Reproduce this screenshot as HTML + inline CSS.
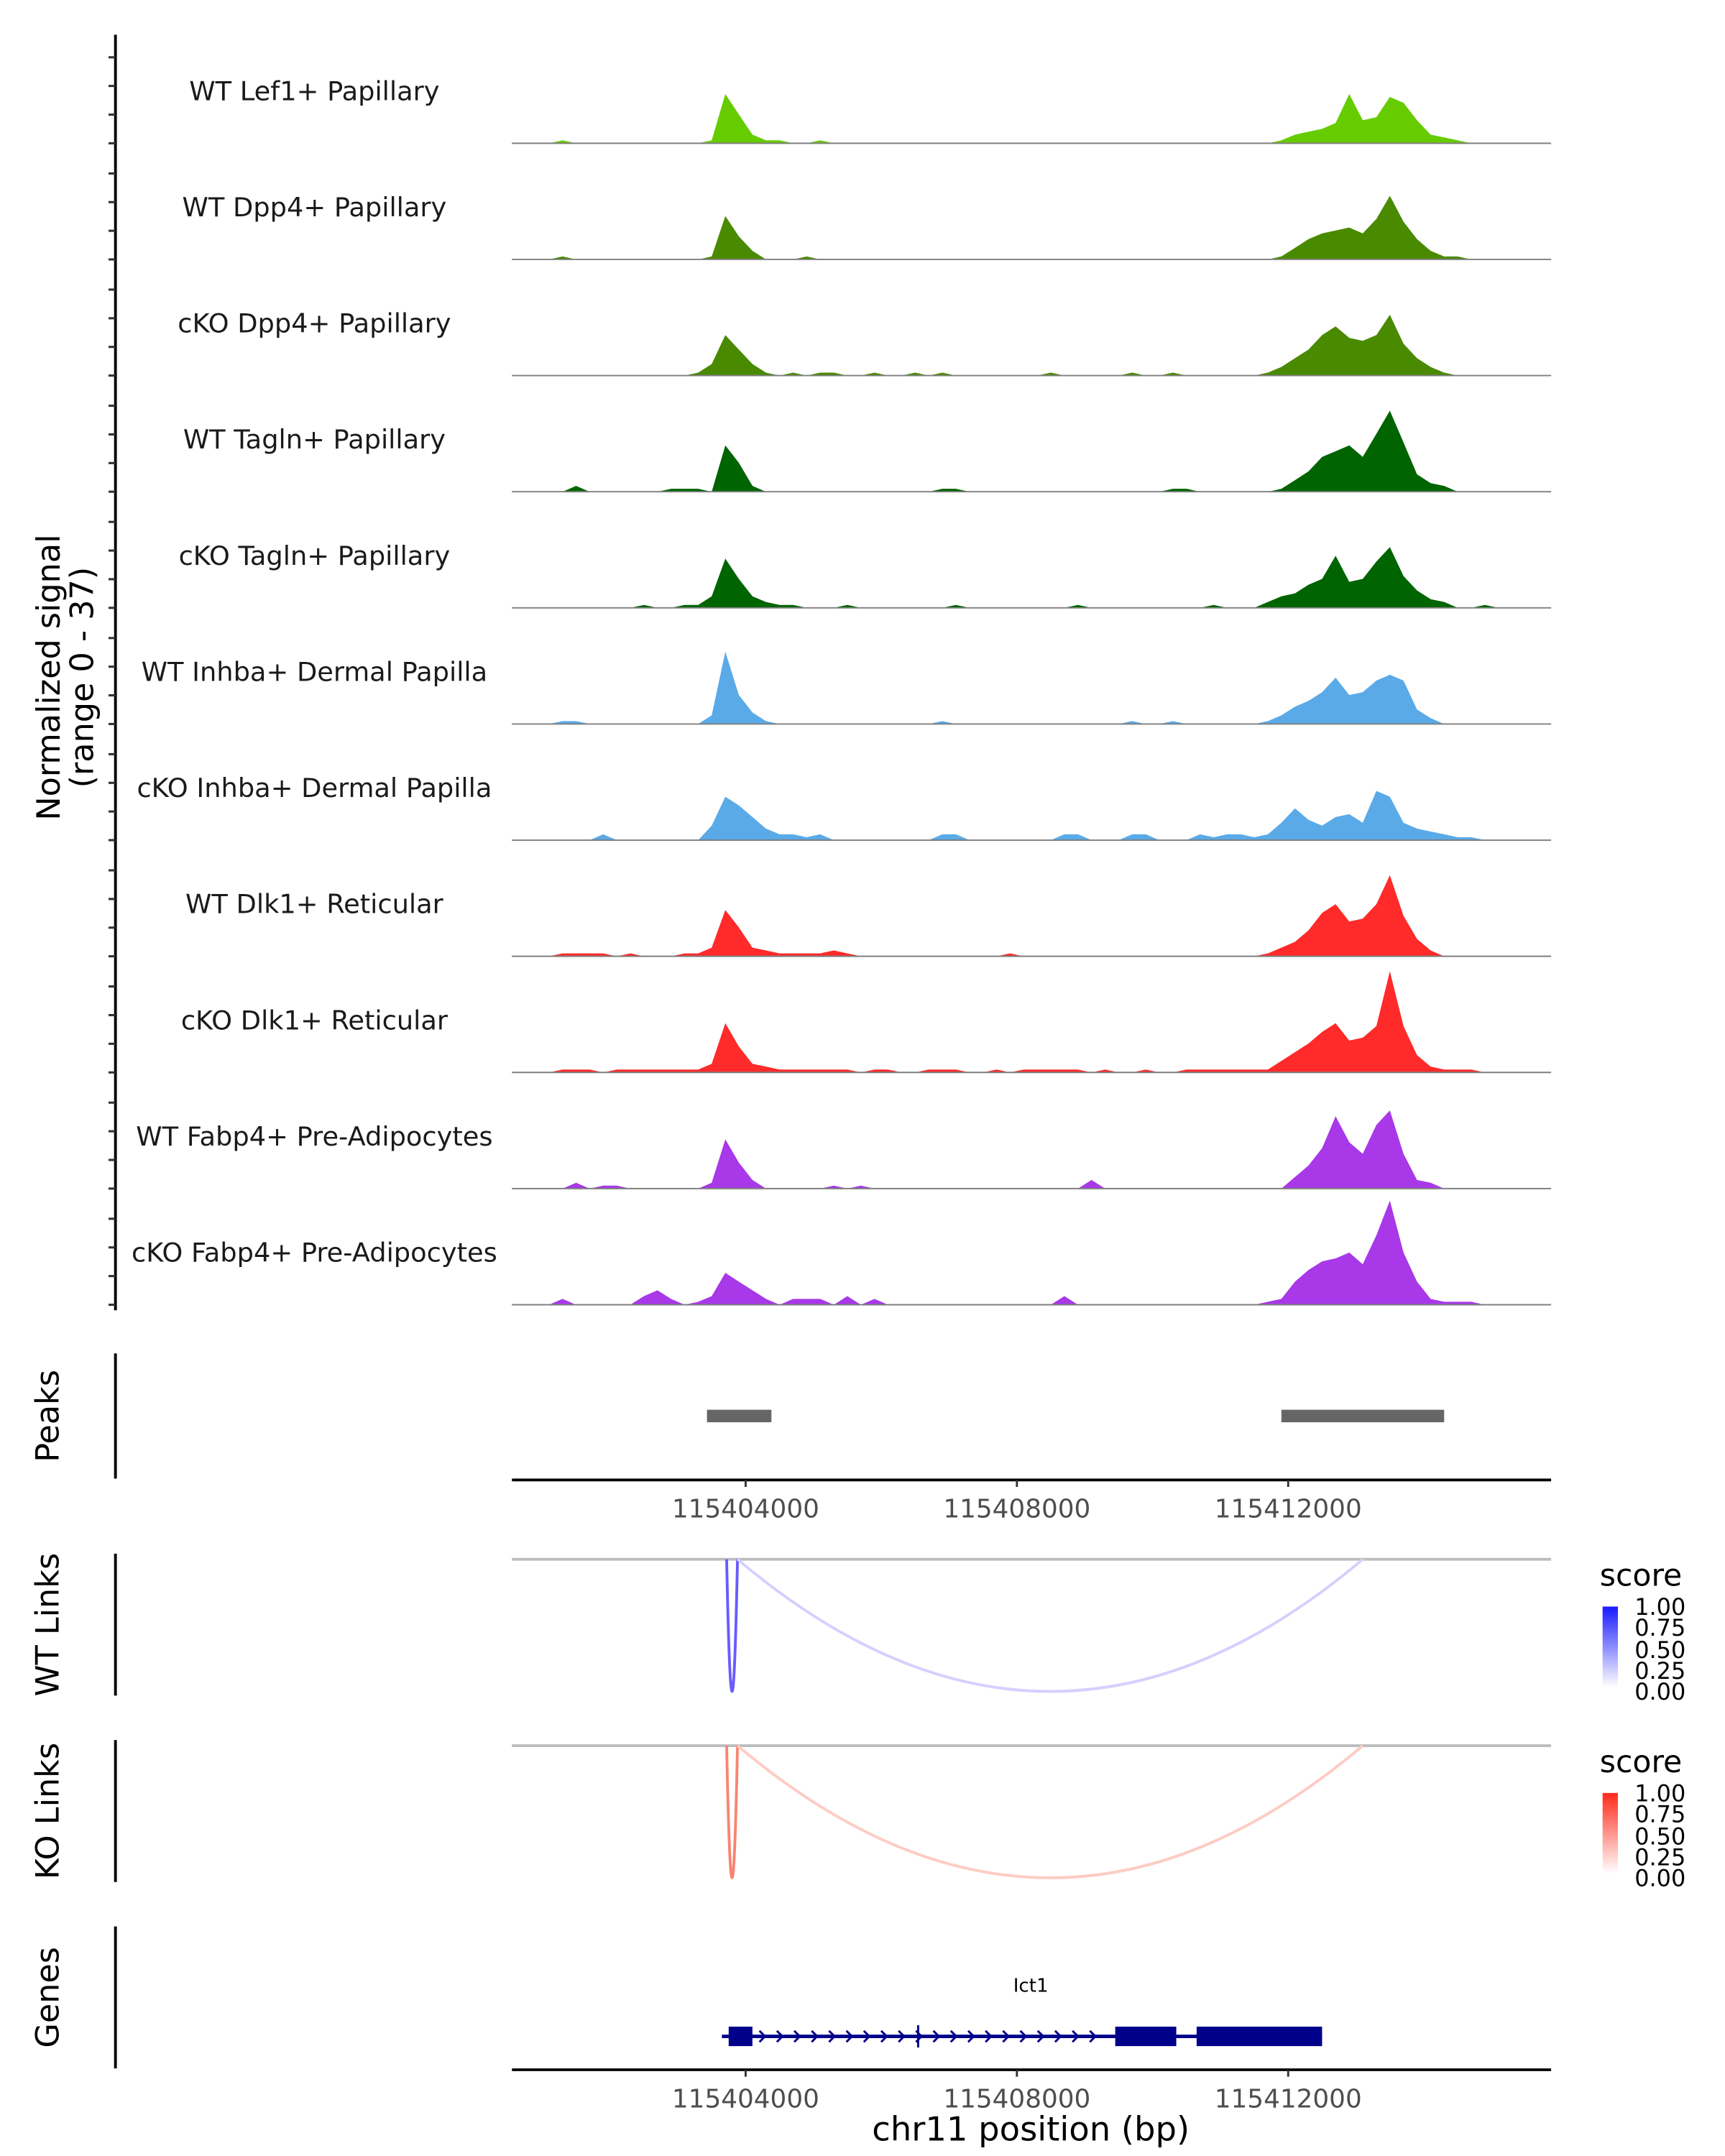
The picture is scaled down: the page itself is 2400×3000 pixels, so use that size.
<!DOCTYPE html>
<html><head><meta charset="utf-8"><style>
html,body{margin:0;padding:0;background:#fff;}
svg{display:block;font-family:"DejaVu Sans","Liberation Sans",sans-serif;}
</style></head><body>
<svg id="chart" width="2400" height="3000" viewBox="0 0 1240 1550" xmlns="http://www.w3.org/2000/svg">
<defs>
<linearGradient id="gBlue" x1="0" y1="1" x2="0" y2="0"><stop offset="0" stop-color="#ffffff"/><stop offset="1" stop-color="#1a1aff"/></linearGradient>
<linearGradient id="gRed" x1="0" y1="1" x2="0" y2="0"><stop offset="0" stop-color="#ffffff"/><stop offset="1" stop-color="#ff2a1a"/></linearGradient>
</defs>
<g id="tracks"></g>
<text transform="translate(43,487) rotate(-90)" text-anchor="middle" font-size="23" fill="#000">Normalized signal</text>
<text transform="translate(67,487) rotate(-90)" text-anchor="middle" font-size="23" fill="#000">(range 0 - 37)</text>
<line x1="83" y1="25" x2="83" y2="942" stroke="#000" stroke-width="2"/>
<g id="yticks"></g>

<text transform="translate(42,1018) rotate(-90)" text-anchor="middle" font-size="23">Peaks</text>
<line x1="83" y1="973" x2="83" y2="1063" stroke="#000" stroke-width="2"/>
<g id="peaks"></g>
<line x1="368" y1="1064" x2="1115" y2="1064" stroke="#000" stroke-width="2"/>
<g id="xaxis1"></g>

<text transform="translate(42,1168) rotate(-90)" text-anchor="middle" font-size="23">WT Links</text>
<line x1="83" y1="1117" x2="83" y2="1219" stroke="#000" stroke-width="2"/>
<line x1="368" y1="1121" x2="1115" y2="1121" stroke="#bdbdbd" stroke-width="2"/>
<g id="wtlinks"></g>
<text x="1150" y="1140" font-size="22">score</text>
<rect x="1152" y="1155" width="11" height="58" fill="url(#gBlue)"/>
<g font-size="16.5">
<text x="1175" y="1161">1.00</text><text x="1175" y="1176">0.75</text><text x="1175" y="1192">0.50</text><text x="1175" y="1207">0.25</text><text x="1175" y="1222">0.00</text></g>

<text transform="translate(42,1302) rotate(-90)" text-anchor="middle" font-size="23">KO Links</text>
<line x1="83" y1="1251" x2="83" y2="1353" stroke="#000" stroke-width="2"/>
<line x1="368" y1="1255" x2="1115" y2="1255" stroke="#bdbdbd" stroke-width="2"/>
<g id="kolinks"></g>
<text x="1150" y="1274" font-size="22">score</text>
<rect x="1152" y="1289" width="11" height="58" fill="url(#gRed)"/>
<g font-size="16.5">
<text x="1175" y="1295">1.00</text><text x="1175" y="1310">0.75</text><text x="1175" y="1326">0.50</text><text x="1175" y="1341">0.25</text><text x="1175" y="1356">0.00</text></g>

<text transform="translate(42,1436) rotate(-90)" text-anchor="middle" font-size="23">Genes</text>
<line x1="83" y1="1385" x2="83" y2="1487" stroke="#000" stroke-width="2"/>
<text x="741" y="1432" text-anchor="middle" font-size="13.5">Ict1</text>
<g id="gene"></g>
<line x1="368" y1="1488" x2="1115" y2="1488" stroke="#000" stroke-width="2"/>
<g id="xaxis2"></g>
<text x="741" y="1539" text-anchor="middle" font-size="24">chr11 position (bp)</text>
</svg>
<script>
const trackNames = ["WT Lef1+ Papillary","WT Dpp4+ Papillary","cKO Dpp4+ Papillary","WT Tagln+ Papillary","cKO Tagln+ Papillary","WT Inhba+ Dermal Papilla","cKO Inhba+ Dermal Papilla","WT Dlk1+ Reticular","cKO Dlk1+ Reticular","WT Fabp4+ Pre-Adipocytes","cKO Fabp4+ Pre-Adipocytes"];
const trackColors = ["#66cc00","#4a8a00","#4a8a00","#006400","#006400","#5aaae8","#5aaae8","#ff2a2a","#ff2a2a","#a838e8","#a838e8"];
const binStart = 115400600;
const binWidth = 200;
const sigWTLef1 = [0,0,0,1,0,0,0,0,0,0, 0,0,0,0,1,17,10,3,1,1, 0,0,1,0,0,0,0,0,0,0, 0,0,0,0,0,0,0,0,0,0, 0,0,0,0,0,0,0,0,0,0, 0,0,0,0,0,0,1,3,4,5, 7,17,8,9,16,14,8,3,2,1, 0,0,0,0,0,0];
const sigWTDpp4 = [0,0,0,1,0,0,0,0,0,0, 0,0,0,0,1,15,8,3,0,0, 0,1,0,0,0,0,0,0,0,0, 0,0,0,0,0,0,0,0,0,0, 0,0,0,0,0,0,0,0,0,0, 0,0,0,0,0,0,1,4,7,9, 10,11,9,14,22,13,7,3,1,1, 0,0,0,0,0,0];
const sigKODpp4 = [0,0,0,0,0,0,0,0,0,0, 0,0,0,1,4,14,9,4,1,0, 1,0,1,1,0,0,1,0,0,1, 0,1,0,0,0,0,0,0,0,1, 0,0,0,0,0,1,0,0,1,0, 0,0,0,0,0,1,3,6,9,14, 17,13,12,14,21,11,6,3,1,0, 0,0,0,0,0,0];
const sigWTTagln = [0,0,0,0,2,0,0,0,0,0, 0,1,1,1,0,16,10,2,0,0, 0,0,0,0,0,0,0,0,0,0, 0,1,1,0,0,0,0,0,0,0, 0,0,0,0,0,0,0,0,1,1, 0,0,0,0,0,0,1,4,7,12, 14,16,12,20,28,17,6,3,2,0, 0,0,0,0,0,0];
const sigKOTagln = [0,0,0,0,0,0,0,0,0,1, 0,0,1,1,4,17,10,4,2,1, 1,0,0,0,1,0,0,0,0,0, 0,0,1,0,0,0,0,0,0,0, 0,1,0,0,0,0,0,0,0,0, 0,1,0,0,0,2,4,5,8,10, 18,9,10,16,21,11,6,3,2,0, 0,1,0,0,0,0];
const sigWTInhba = [0,0,0,1,1,0,0,0,0,0, 0,0,0,0,3,25,10,4,1,0, 0,0,0,0,0,0,0,0,0,0, 0,1,0,0,0,0,0,0,0,0, 0,0,0,0,0,1,0,0,1,0, 0,0,0,0,0,1,3,6,8,11, 16,10,11,15,17,15,5,2,0,0, 0,0,0,0,0,0];
const sigKOInhba = [0,0,0,0,0,0,2,0,0,0, 0,0,0,0,5,15,12,8,4,2, 2,1,2,0,0,0,0,0,0,0, 0,2,2,0,0,0,0,0,0,0, 2,2,0,0,0,2,2,0,0,0, 2,1,2,2,1,2,6,11,7,5, 8,9,6,17,15,6,4,3,2,1, 1,0,0,0,0,0];
const sigWTDlk1 = [0,0,0,1,1,1,1,0,1,0, 0,0,1,1,3,16,10,3,2,1, 1,1,1,2,1,0,0,0,0,0, 0,0,0,0,0,0,1,0,0,0, 0,0,0,0,0,0,0,0,0,0, 0,0,0,0,0,1,3,5,9,15, 18,12,13,18,28,14,6,2,0,0, 0,0,0,0,0,0];
const sigKODlk1 = [0,0,0,1,1,1,0,1,1,1, 1,1,1,1,3,17,9,3,2,1, 1,1,1,1,1,0,1,1,0,0, 1,1,1,0,0,1,0,1,1,1, 1,1,0,1,0,0,1,0,0,1, 1,1,1,1,1,1,4,7,10,14, 17,11,12,16,35,16,6,2,1,1, 1,0,0,0,0,0];
const sigWTFabp4 = [0,0,0,0,2,0,1,1,0,0, 0,0,0,0,2,17,9,3,0,0, 0,0,0,1,0,1,0,0,0,0, 0,0,0,0,0,0,0,0,0,0, 0,0,3,0,0,0,0,0,0,0, 0,0,0,0,0,0,0,4,8,14, 25,16,12,22,27,12,3,2,0,0, 0,0,0,0,0,0];
const sigKOFabp4 = [0,0,0,2,0,0,0,0,0,3, 5,2,0,1,3,11,8,5,2,0, 2,2,2,0,3,0,2,0,0,0, 0,0,0,0,0,0,0,0,0,0, 3,0,0,0,0,0,0,0,0,0, 0,0,0,0,0,1,2,8,12,15, 16,18,14,24,36,18,8,2,1,1, 1,0,0,0,0,0];
const signals = [sigWTLef1,sigWTDpp4,sigKODpp4,sigWTTagln,sigKOTagln,sigWTInhba,sigKOInhba,sigWTDlk1,sigKODlk1,sigWTFabp4,sigKOFabp4];
const peakStarts = [115403430, 115411900];
const peakEnds = [115404380, 115414300];
const xTicks = [115404000, 115408000, 115412000];
const wtLinkStart = [115403720, 115403880];
const wtLinkEnd = [115403880, 115413100];
const wtLinkScore = [0.7, 0.2];
const koLinkStart = [115403720, 115403880];
const koLinkEnd = [115403880, 115413100];
const koLinkScore = [0.6, 0.25];
const geneStart = 115403650, geneEnd = 115412500;
const exonStarts = [115403750, 115409450, 115410650];
const exonEnds = [115404100, 115410350, 115412500];

const NS="http://www.w3.org/2000/svg";
const X0=368, X1=1115, BP0=115400554, BP1=115415877;
function xs(bp){return X0+(bp-BP0)/(BP1-BP0)*(X1-X0);}
const YMAX=37, TRACKH=77;
function mk(tag,attrs,parent){const e=document.createElementNS(NS,tag);for(const k in attrs)e.setAttribute(k,attrs[k]);parent.appendChild(e);return e;}
const tracks=document.getElementById('tracks');
for(let t=0;t<signals.length;t++){
  const base=103+t*83.5;
  const g=mk('g',{},tracks);
  
  
  const vals=signals[t];
  let d='M'+X0+','+base+' L'+xs(binStart).toFixed(1)+','+base;
  for(let i=0;i<vals.length;i++){
    const xc=xs(binStart+(i+0.5)*binWidth);
    const y=base-vals[i]/YMAX*TRACKH;
    d+=' L'+xc.toFixed(1)+','+y.toFixed(1);
  }
  d+=' L'+xs(binStart+vals.length*binWidth).toFixed(1)+','+base+' L'+X1+','+base+' Z';
  const p=mk('path',{d:d,fill:trackColors[t]},g);
  
  
  const bl=mk('line',{x1:X0,x2:X1,y1:base,y2:base,stroke:'#7f7f7f','stroke-width':1},g);
  
  
  const lb=mk('text',{x:226,y:base-31,'text-anchor':'middle','font-size':19,fill:'#1a1a1a'},g);
  
  
  lb.textContent=trackNames[t];
}
const yt=document.getElementById('yticks');
for(let t=0;t<11;t++){const base=103+t*83.5;for(let k=0;k<4;k++){const y=base-k*20.6;
  const l=mk('line',{x1:78,x2:83,y1:y,y2:y,stroke:'#333','stroke-width':1.6},yt);
  
  }}
const pk=document.getElementById('peaks');
for(let i=0;i<peakStarts.length;i++){
  const r=mk('rect',{x:xs(peakStarts[i]),y:1013.5,width:xs(peakEnds[i])-xs(peakStarts[i]),height:9,fill:'#666'},pk);
  
  
}
function axisTicks(id,y){const g=document.getElementById(id);
  for(const v of xTicks){const x=xs(v);
    const l=mk('line',{x1:x,x2:x,y1:y,y2:y+5,stroke:'#333','stroke-width':1.5},g);
    
    
    const t=mk('text',{x:x,y:y+27,'text-anchor':'middle','font-size':18.5,fill:'#4d4d4d'},g);
    
    
    t.textContent=v;}}
axisTicks('xaxis1',1064);axisTicks('xaxis2',1488);
function lerp(a,b,t){return Math.round(a+(b-a)*t);}
function links(id,base,st,en,sc,c){const g=document.getElementById(id);
  for(let i=0;i<st.length;i++){const a=xs(st[i]),b=xs(en[i]),dep=95*2;
    const col='rgb('+lerp(255,c[0],sc[i])+','+lerp(255,c[1],sc[i])+','+lerp(255,c[2],sc[i])+')';
    const p=mk('path',{d:'M'+a+','+base+' Q'+((a+b)/2)+','+(base+dep)+' '+b+','+base,fill:'none',stroke:col,'stroke-width':2},g);
    
    }}
links('wtlinks',1121,wtLinkStart,wtLinkEnd,wtLinkScore,[40,20,255]);
links('kolinks',1255,koLinkStart,koLinkEnd,koLinkScore,[245,50,20]);
const gg=document.getElementById('gene');
const gl=mk('line',{x1:xs(geneStart),x2:xs(geneEnd),y1:1464,y2:1464,stroke:'#00008b','stroke-width':2.5},gg);


for(let x=xs(geneStart)+30;x<xs(exonStarts[1])-4;x+=12.5){
  const a=mk('path',{d:'M'+(x-3)+',1460 L'+(x+1)+',1464 L'+(x-3)+',1468',fill:'none',stroke:'#00008b','stroke-width':1.5},gg);
  
  }
const tk=mk('line',{x1:660,x2:660,y1:1456,y2:1472,stroke:'#00008b','stroke-width':1.5},gg);


for(let i=0;i<exonStarts.length;i++){
  const r=mk('rect',{x:xs(exonStarts[i]),y:1457,width:xs(exonEnds[i])-xs(exonStarts[i]),height:14,fill:'#00008b'},gg);
  
  }
</script>
</body></html>
